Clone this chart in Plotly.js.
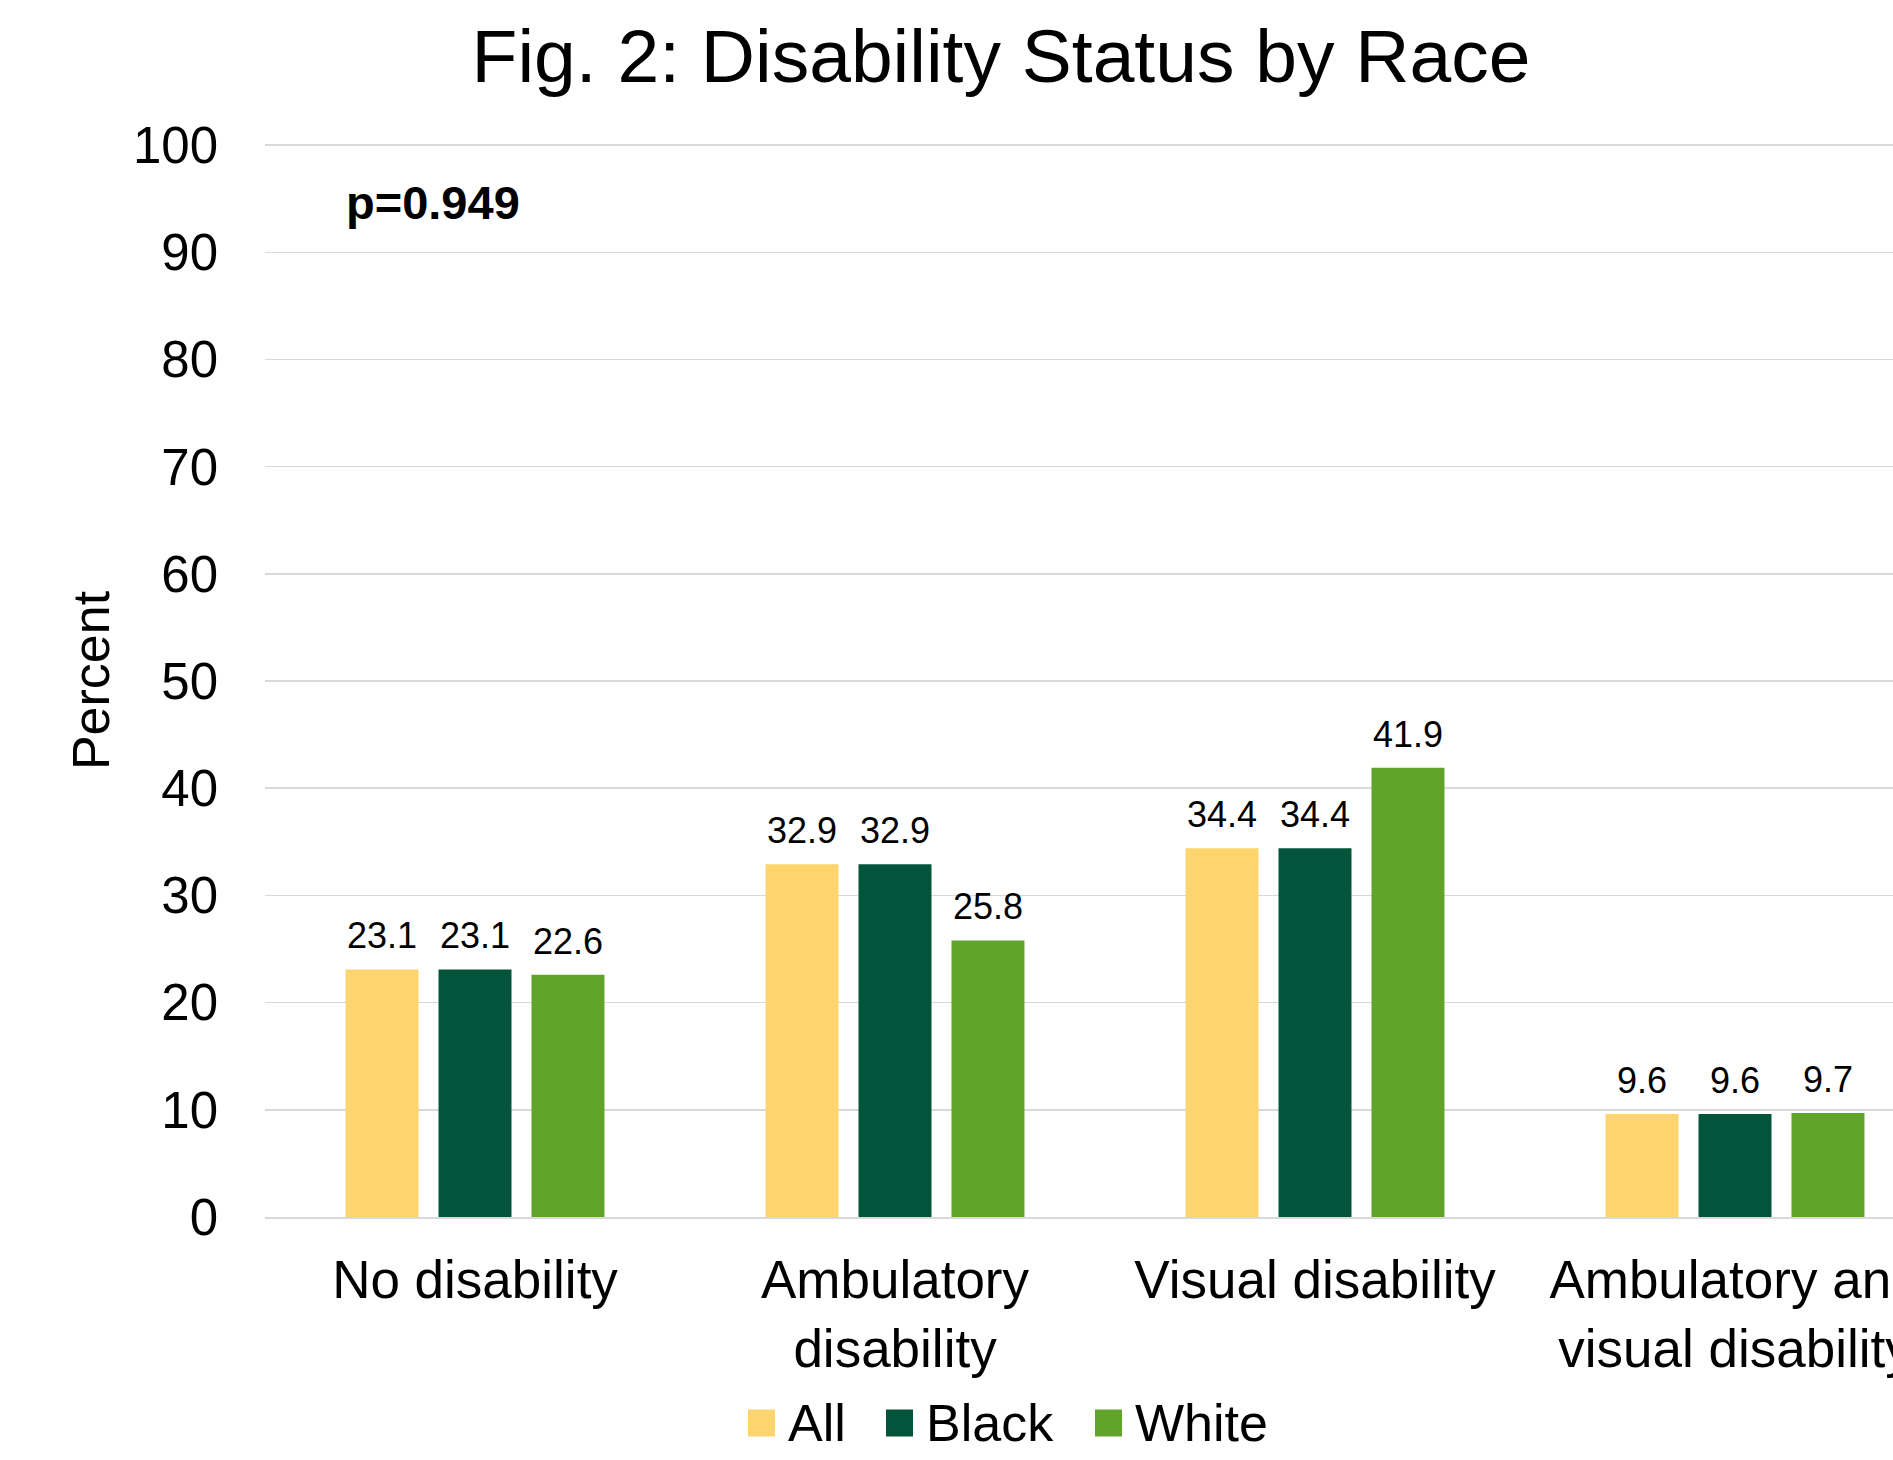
<!DOCTYPE html>
<html>
<head>
<meta charset="utf-8">
<script src="https://cdn.plot.ly/plotly-3.0.1.min.js"></script>
<style>
  html, body { margin: 0; padding: 0; overflow: hidden; background: #ffffff; }
  #chart { width: 2002px; height: 1460px; }
</style>
</head>
<body>
<div id="chart"></div>
<script>
// Disability status by race: share of each group (percent)
const categories = ['No disability', 'Ambulatory disability', 'Visual disability', 'Ambulatory and visual disability'];
const categoryLabels = ['No disability', 'Ambulatory<br>disability', 'Visual disability', 'Ambulatory and<br>visual disability'];
const seriesNames = ['All', 'Black', 'White'];
const allValues = [23.1, 32.9, 34.4, 9.6];
const blackValues = [23.1, 32.9, 34.4, 9.6];
const whiteValues = [22.6, 25.8, 41.9, 9.7];
const seriesColors = ['#FDD46E', '#02553A', '#60A429'];
const yTickValues = [0, 10, 20, 30, 40, 50, 60, 70, 80, 90, 100];
const chartTitle = 'Fig. 2: Disability Status by Race';
const yAxisTitle = 'Percent';
const pValueText = 'p=0.949';

const FONT = 'Liberation Sans, Arial, Helvetica, sans-serif';
const W = 2002, H = 1460;
const M = { l: 265, r: 57, t: 144, b: 243 };
const plotW = W - M.l - M.r;
const plotH = H - M.t - M.b;
const BARGAP = 0.336;
const BARGROUPGAP = 0.215;
// a hair above 100 so the top gridline is drawn inside the plot area
const Y_MAX = 100.1;

const seriesValues = [allValues, blackValues, whiteValues];

const traces = seriesValues.map((vals, i) => ({
  type: 'bar',
  name: seriesNames[i],
  x: categories,
  y: vals,
  marker: { color: seriesColors[i], line: { width: 0 } },
  showlegend: false,
  hoverinfo: 'x+y+name'
}));

// pixel helpers for labels placed around the plot area
const px2paperX = px => (px - M.l) / plotW;
const py2paperY = py => (H - M.b - py) / plotH;

// width of one bar slot within a category group
const bandPx = plotW / categories.length;
const slotPx = bandPx * (1 - BARGAP) / seriesNames.length;

const annotations = [];

// value labels above each bar
seriesValues.forEach((vals, i) => {
  vals.forEach((v, j) => {
    annotations.push({
      x: categories[j], y: v, xref: 'x', yref: 'y',
      xshift: (i - (seriesNames.length - 1) / 2) * slotPx,
      yshift: 11,
      text: v.toFixed(1),
      showarrow: false,
      xanchor: 'center', yanchor: 'bottom',
      font: { family: FONT, size: 36, color: '#000000' }
    });
  });
});

// significance note
annotations.push({
  x: px2paperX(344), y: py2paperY(202), xref: 'paper', yref: 'paper',
  text: '<b>' + pValueText + '</b>', showarrow: false,
  xanchor: 'left', yanchor: 'middle',
  font: { family: FONT, size: 47, color: '#000000' }
});

// legend built from swatches and labels centred under the chart
const shapes = [];
const swatchLeft = [748, 886, 1095];
const legendTextLeft = [786, 924, 1133];
const legendMidY = 1423;
const swatchSize = 27;
seriesNames.forEach((name, i) => {
  shapes.push({
    type: 'rect', xref: 'paper', yref: 'paper',
    x0: px2paperX(swatchLeft[i]), x1: px2paperX(swatchLeft[i] + swatchSize),
    y0: py2paperY(legendMidY + swatchSize / 2), y1: py2paperY(legendMidY - swatchSize / 2),
    fillcolor: seriesColors[i], line: { width: 0 }
  });
  annotations.push({
    x: px2paperX(legendTextLeft[i]), y: py2paperY(legendMidY), xref: 'paper', yref: 'paper',
    text: name, showarrow: false, xanchor: 'left', yanchor: 'middle',
    font: { family: FONT, size: 52, color: '#000000' }
  });
});

const layout = {
  width: W, height: H,
  margin: M,
  paper_bgcolor: '#ffffff', plot_bgcolor: '#ffffff',
  font: { family: FONT, color: '#000000' },
  title: {
    text: chartTitle,
    font: { family: FONT, size: 75, color: '#000000' },
    x: 0.5, xref: 'container', xanchor: 'center',
    y: 1 - 56 / H, yref: 'container', yanchor: 'middle'
  },
  barmode: 'group',
  bargap: BARGAP,
  bargroupgap: BARGROUPGAP,
  showlegend: false,
  xaxis: {
    type: 'category',
    tickvals: categories,
    ticktext: categoryLabels,
    tickfont: { family: FONT, size: 53, color: '#000000' },
    ticks: '',
    ticklabelstandoff: 16,
    showline: true, linecolor: '#D9D9D9', linewidth: 1.5,
    showgrid: false, zeroline: false,
    fixedrange: true
  },
  yaxis: {
    range: [0, Y_MAX],
    tickvals: yTickValues,
    tickfont: { family: FONT, size: 51, color: '#000000' },
    ticks: '',
    ticklabelstandoff: 46,
    showgrid: true, gridcolor: '#D9D9D9', gridwidth: 1.5,
    zeroline: false, showline: false,
    title: { text: yAxisTitle, font: { family: FONT, size: 52, color: '#000000' }, standoff: 6 },
    fixedrange: true
  },
  annotations: annotations,
  shapes: shapes
};

Plotly.newPlot('chart', traces, layout, { displayModeBar: false, staticPlot: true });
</script>
</body>
</html>
